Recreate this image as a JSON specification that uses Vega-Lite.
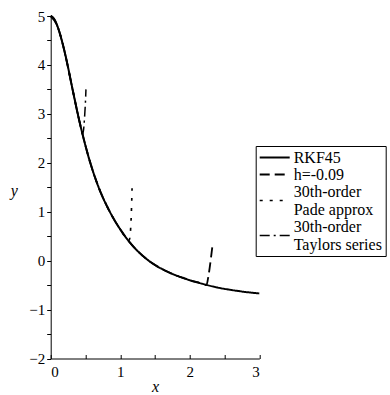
{
  "$schema": "https://vega.github.io/schema/vega-lite/v6.json",
  "width": 208.6,
  "height": 342.5,
  "autosize": {"type": "none"},
  "padding": {"left": 50.7, "top": 16, "right": 130.7, "bottom": 36.5},
  "background": "white",
  "config": {
    "view": {"stroke": null},
    "axis": {
      "grid": false,
      "domainColor": "black",
      "domainWidth": 1,
      "tickColor": "black",
      "tickWidth": 1,
      "labelFontSize": 15,
      "labelColor": "black",
      "titleFontSize": 16,
      "titleFontStyle": "italic",
      "titleFontWeight": "normal",
      "titleColor": "black"
    }
  },
  "data": {
    "values": [
      {"x": 0, "y": 5, "s": "RKF45"},
      {"x": 0.05, "y": 4.94, "s": "RKF45"},
      {"x": 0.1, "y": 4.78, "s": "RKF45"},
      {"x": 0.15, "y": 4.55, "s": "RKF45"},
      {"x": 0.2, "y": 4.27, "s": "RKF45"},
      {"x": 0.25, "y": 3.95, "s": "RKF45"},
      {"x": 0.3, "y": 3.6, "s": "RKF45"},
      {"x": 0.35, "y": 3.26, "s": "RKF45"},
      {"x": 0.4, "y": 2.93, "s": "RKF45"},
      {"x": 0.45, "y": 2.63, "s": "RKF45"},
      {"x": 0.5, "y": 2.35, "s": "RKF45"},
      {"x": 0.55, "y": 2.09, "s": "RKF45"},
      {"x": 0.6, "y": 1.86, "s": "RKF45"},
      {"x": 0.65, "y": 1.65, "s": "RKF45"},
      {"x": 0.7, "y": 1.46, "s": "RKF45"},
      {"x": 0.75, "y": 1.29, "s": "RKF45"},
      {"x": 0.8, "y": 1.14, "s": "RKF45"},
      {"x": 0.9, "y": 0.87, "s": "RKF45"},
      {"x": 1.0, "y": 0.64, "s": "RKF45"},
      {"x": 1.1, "y": 0.44, "s": "RKF45"},
      {"x": 1.2, "y": 0.27, "s": "RKF45"},
      {"x": 1.3, "y": 0.13, "s": "RKF45"},
      {"x": 1.4, "y": 0.01, "s": "RKF45"},
      {"x": 1.5, "y": -0.09, "s": "RKF45"},
      {"x": 1.6, "y": -0.17, "s": "RKF45"},
      {"x": 1.7, "y": -0.24, "s": "RKF45"},
      {"x": 1.8, "y": -0.3, "s": "RKF45"},
      {"x": 1.9, "y": -0.35, "s": "RKF45"},
      {"x": 2.0, "y": -0.4, "s": "RKF45"},
      {"x": 2.2, "y": -0.48, "s": "RKF45"},
      {"x": 2.4, "y": -0.55, "s": "RKF45"},
      {"x": 2.6, "y": -0.6, "s": "RKF45"},
      {"x": 2.8, "y": -0.64, "s": "RKF45"},
      {"x": 3.0, "y": -0.67, "s": "RKF45"},

      {"x": 0, "y": 5, "s": "h=-0.09"},
      {"x": 0.1, "y": 4.78, "s": "h=-0.09"},
      {"x": 0.2, "y": 4.27, "s": "h=-0.09"},
      {"x": 0.3, "y": 3.6, "s": "h=-0.09"},
      {"x": 0.4, "y": 2.93, "s": "h=-0.09"},
      {"x": 0.5, "y": 2.35, "s": "h=-0.09"},
      {"x": 0.6, "y": 1.86, "s": "h=-0.09"},
      {"x": 0.7, "y": 1.46, "s": "h=-0.09"},
      {"x": 0.8, "y": 1.14, "s": "h=-0.09"},
      {"x": 0.9, "y": 0.87, "s": "h=-0.09"},
      {"x": 1.0, "y": 0.64, "s": "h=-0.09"},
      {"x": 1.2, "y": 0.27, "s": "h=-0.09"},
      {"x": 1.4, "y": 0.01, "s": "h=-0.09"},
      {"x": 1.6, "y": -0.17, "s": "h=-0.09"},
      {"x": 1.8, "y": -0.3, "s": "h=-0.09"},
      {"x": 2.0, "y": -0.4, "s": "h=-0.09"},
      {"x": 2.2, "y": -0.48, "s": "h=-0.09"},
      {"x": 2.24, "y": -0.5, "s": "h=-0.09"},
      {"x": 2.27, "y": -0.3, "s": "h=-0.09"},
      {"x": 2.3, "y": 0.0, "s": "h=-0.09"},
      {"x": 2.33, "y": 0.35, "s": "h=-0.09"},

      {"x": 0, "y": 5, "s": "Pade"},
      {"x": 0.1, "y": 4.78, "s": "Pade"},
      {"x": 0.2, "y": 4.27, "s": "Pade"},
      {"x": 0.3, "y": 3.6, "s": "Pade"},
      {"x": 0.4, "y": 2.93, "s": "Pade"},
      {"x": 0.5, "y": 2.35, "s": "Pade"},
      {"x": 0.6, "y": 1.86, "s": "Pade"},
      {"x": 0.7, "y": 1.46, "s": "Pade"},
      {"x": 0.8, "y": 1.14, "s": "Pade"},
      {"x": 0.9, "y": 0.87, "s": "Pade"},
      {"x": 1.0, "y": 0.64, "s": "Pade"},
      {"x": 1.1, "y": 0.44, "s": "Pade"},
      {"x": 1.13, "y": 0.42, "s": "Pade"},
      {"x": 1.145, "y": 0.56, "s": "Pade"},
      {"x": 1.155, "y": 0.8, "s": "Pade"},
      {"x": 1.165, "y": 1.2, "s": "Pade"},
      {"x": 1.17, "y": 1.48, "s": "Pade"},

      {"x": 0, "y": 5, "s": "Taylor"},
      {"x": 0.05, "y": 4.94, "s": "Taylor"},
      {"x": 0.1, "y": 4.78, "s": "Taylor"},
      {"x": 0.15, "y": 4.55, "s": "Taylor"},
      {"x": 0.2, "y": 4.27, "s": "Taylor"},
      {"x": 0.25, "y": 3.95, "s": "Taylor"},
      {"x": 0.3, "y": 3.6, "s": "Taylor"},
      {"x": 0.35, "y": 3.26, "s": "Taylor"},
      {"x": 0.4, "y": 2.93, "s": "Taylor"},
      {"x": 0.45, "y": 2.63, "s": "Taylor"},
      {"x": 0.465, "y": 2.6, "s": "Taylor"},
      {"x": 0.478, "y": 2.75, "s": "Taylor"},
      {"x": 0.49, "y": 3.0, "s": "Taylor"},
      {"x": 0.5, "y": 3.25, "s": "Taylor"},
      {"x": 0.507, "y": 3.5, "s": "Taylor"}
    ]
  },
  "mark": {"type": "line", "color": "black", "strokeCap": "butt", "interpolate": "monotone"},
  "encoding": {
    "x": {
      "field": "x",
      "type": "quantitative",
      "scale": {"domain": [0, 3], "nice": false, "zero": false},
      "axis": {
        "title": "x",
        "labelFont": "Liberation Serif",
        "titleFont": "Liberation Serif",
        "values": [0, 0.5, 1, 1.5, 2, 2.5, 3],
        "labelExpr": "datum.value % 1 == 0 ? format(datum.value, 'd') : ''",
        "tickSize": -4,
        "labelPadding": 10,
        "titleY": 28,
        "titleBaseline": "middle"
      }
    },
    "y": {
      "field": "y",
      "type": "quantitative",
      "scale": {"domain": [-2, 5], "nice": false, "zero": false},
      "axis": {
        "title": "y",
        "labelFont": "Liberation Serif",
        "titleFont": "Liberation Serif",
        "values": [-2, -1.5, -1, -0.5, 0, 0.5, 1, 1.5, 2, 2.5, 3, 3.5, 4, 4.5, 5],
        "labelExpr": "datum.value % 1 == 0 ? format(datum.value, 'd') : ''",
        "tickSize": 4,
        "labelPadding": 2,
        "titleAngle": 0,
        "titleAlign": "center",
        "titleBaseline": "middle",
        "titleX": -37,
        "titleY": 174
      }
    },
    "strokeDash": {
      "field": "s",
      "type": "nominal",
      "scale": {
        "domain": ["RKF45", "h=-0.09", "Pade", "Taylor"],
        "range": [[1, 0], [10, 5], [3, 7], [10, 4, 2, 4]]
      },
      "legend": {
        "title": null,
        "orient": "none",
        "legendX": 205,
        "legendY": 130,
        "strokeColor": "black",
        "padding": 3,
        "symbolType": "M-1,0H3",
        "symbolSize": 225,
        "symbolStrokeColor": "black",
        "symbolStrokeWidth": 2,
        "labelFont": "Liberation Serif",
        "labelFontSize": 16,
        "labelColor": "black",
        "labelOffset": 18,
        "rowPadding": 0,
        "labelLimit": 300,
        "labelExpr": "datum.label == 'Pade' ? ['30th-order', 'Pade approx'] : datum.label == 'Taylor' ? ['30th-order', 'Taylors series'] : datum.label",
        "encoding": {
          "labels": {
            "dy": {"value": {"expr": "datum.value == 'Pade' || datum.value == 'Taylor' ? -9 : 0"}},
            "lineHeight": {"value": 18}
          }
        }
      }
    },
    "strokeWidth": {
      "field": "s",
      "type": "nominal",
      "scale": {
        "domain": ["RKF45", "h=-0.09", "Pade", "Taylor"],
        "range": [2, 1.5, 3, 1.5]
      },
      "legend": null
    }
  }
}
